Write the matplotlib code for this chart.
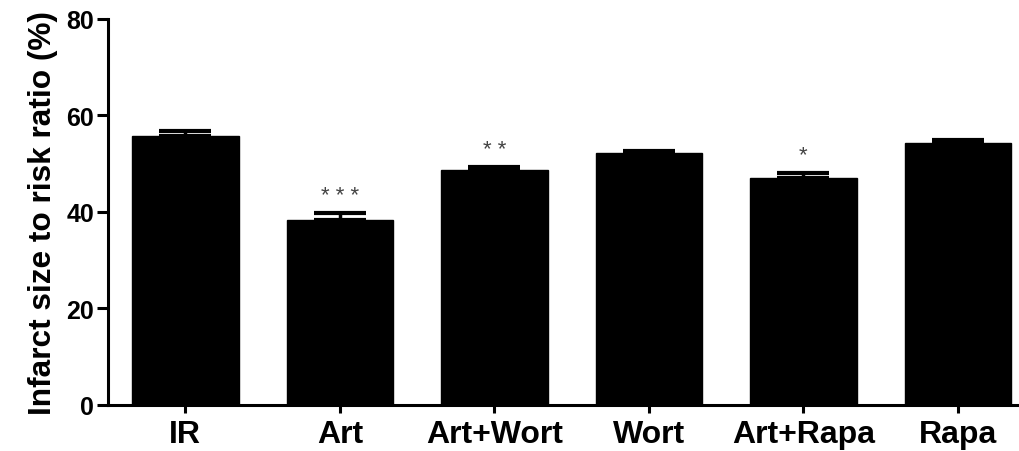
import numpy as np
import matplotlib.pyplot as plt

# values
groups = ['IR', 'Art', 'Art+Wort', 'Wort', 'Art+Rapa', 'Rapa']
means = [55.8, 38.3, 48.8, 52.2, 47.1, 54.2]
sems = [1.0, 1.4, 0.5, 0.4, 1.0, 0.8]
stars = ['', '* * *', '* *', '', '*', '']

plt.rcParams['font.family'] = ['Liberation Sans', 'DejaVu Sans']

fig = plt.figure(figsize=(10.19, 4.52), dpi=100)
ax = fig.add_axes([0.106, 0.1018, 0.894, 0.854])

x = np.arange(len(groups))
ax.bar(x, means, width=0.69, color='black', edgecolor='black', zorder=2)
ax.errorbar(x, means, yerr=[np.zeros(len(sems)), sems], fmt='none', ecolor='black',
            elinewidth=2.5, capsize=19, capthick=3.0, zorder=3)

# significance marks above the error bars
for xi, m, s, st in zip(x, means, sems, stars):
    if st:
        ax.text(xi, m + s + 2.6, st, ha='center', va='baseline', fontsize=16,
                color='#444444')

ax.set_xlim(-0.5, 5.395)
ax.set_ylim(0, 80)
ax.set_yticks([0, 20, 40, 60, 80])
ax.set_xticks(x)
ax.set_xticklabels(groups, fontsize=23, fontweight='bold')
for lbl in ax.get_yticklabels():
    lbl.set_fontsize(18)
    lbl.set_fontweight('bold')
ax.set_ylabel('Infarct size to risk ratio (%)', fontsize=22.8, fontweight='bold', labelpad=6)

for side in ['top', 'right']:
    ax.spines[side].set_visible(False)
for side in ['left', 'bottom']:
    ax.spines[side].set_linewidth(2.2)
ax.tick_params(axis='y', length=8, width=2.2, pad=2)
ax.tick_params(axis='x', length=6, width=2.2, pad=4)

fig.savefig('out.png', dpi=100)
